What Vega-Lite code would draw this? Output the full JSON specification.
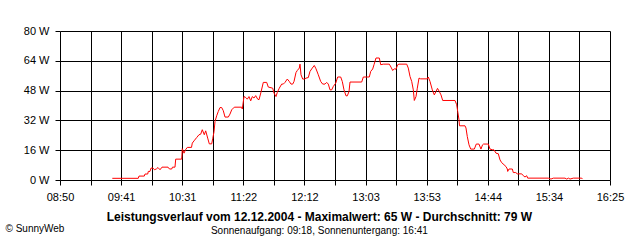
{
  "$schema": "https://vega.github.io/schema/vega-lite/v6.json",
  "width": 550,
  "height": 149,
  "autosize": {"type": "none"},
  "padding": {"left": 60, "top": 31, "right": 30, "bottom": 60},
  "background": "white",
  "config": {
    "view": {"stroke": null},
    "font": "Liberation Sans",
    "axis": {"labelFont": "Liberation Sans", "titleFont": "Liberation Sans", "labelColor": "#000", "titleColor": "#000"}
  },
  "title": {
    "text": "Leistungsverlauf vom 12.12.2004 - Maximalwert: 65 W - Durchschnitt: 79 W",
    "subtitle": "Sonnenaufgang: 09:18, Sonnenuntergang: 16:41",
    "orient": "bottom",
    "anchor": "middle",
    "frame": "bounds",
    "font": "Liberation Sans",
    "fontSize": 12,
    "fontWeight": "bold",
    "color": "#000",
    "subtitleFont": "Liberation Sans",
    "subtitleFontSize": 10,
    "subtitleColor": "#000",
    "subtitlePadding": 2,
    "offset": -21,
    "dx": 5
  },
  "data": {
    "values": [
      {"t": "2004-12-12T09:33:16", "w": 0.9},
      {"t": "2004-12-12T09:54:46", "w": 0.9},
      {"t": "2004-12-12T09:55:21", "w": 2.1},
      {"t": "2004-12-12T09:59:44", "w": 2.1},
      {"t": "2004-12-12T10:00:19", "w": 3.2},
      {"t": "2004-12-12T10:02:33", "w": 3.2},
      {"t": "2004-12-12T10:03:03", "w": 4.6},
      {"t": "2004-12-12T10:04:27", "w": 4.6},
      {"t": "2004-12-12T10:05:17", "w": 6.4},
      {"t": "2004-12-12T10:06:56", "w": 6.4},
      {"t": "2004-12-12T10:08:11", "w": 5.5},
      {"t": "2004-12-12T10:09:50", "w": 6.0},
      {"t": "2004-12-12T10:11:04", "w": 6.7},
      {"t": "2004-12-12T10:12:44", "w": 5.5},
      {"t": "2004-12-12T10:14:23", "w": 6.9},
      {"t": "2004-12-12T10:19:21", "w": 6.9},
      {"t": "2004-12-12T10:20:35", "w": 5.9},
      {"t": "2004-12-12T10:22:25", "w": 5.9},
      {"t": "2004-12-12T10:23:04", "w": 6.9},
      {"t": "2004-12-12T10:25:08", "w": 6.9},
      {"t": "2004-12-12T10:25:43", "w": 11.2},
      {"t": "2004-12-12T10:30:41", "w": 11.2},
      {"t": "2004-12-12T10:31:11", "w": 16.8},
      {"t": "2004-12-12T10:32:35", "w": 14.4},
      {"t": "2004-12-12T10:33:49", "w": 16.2},
      {"t": "2004-12-12T10:35:19", "w": 17.5},
      {"t": "2004-12-12T10:38:47", "w": 17.5},
      {"t": "2004-12-12T10:39:27", "w": 19.8},
      {"t": "2004-12-12T10:40:52", "w": 21.0},
      {"t": "2004-12-12T10:43:05", "w": 22.8},
      {"t": "2004-12-12T10:44:59", "w": 24.3},
      {"t": "2004-12-12T10:46:24", "w": 24.6},
      {"t": "2004-12-12T10:47:43", "w": 27.0},
      {"t": "2004-12-12T10:49:23", "w": 24.3},
      {"t": "2004-12-12T10:50:32", "w": 26.4},
      {"t": "2004-12-12T10:52:11", "w": 22.5},
      {"t": "2004-12-12T10:53:31", "w": 19.4},
      {"t": "2004-12-12T10:55:30", "w": 19.4},
      {"t": "2004-12-12T10:56:19", "w": 22.1},
      {"t": "2004-12-12T10:57:24", "w": 25.9},
      {"t": "2004-12-12T10:58:14", "w": 31.4},
      {"t": "2004-12-12T10:59:38", "w": 34.5},
      {"t": "2004-12-12T11:00:57", "w": 36.8},
      {"t": "2004-12-12T11:02:22", "w": 38.9},
      {"t": "2004-12-12T11:03:46", "w": 38.9},
      {"t": "2004-12-12T11:05:06", "w": 37.2},
      {"t": "2004-12-12T11:06:30", "w": 33.8},
      {"t": "2004-12-12T11:09:14", "w": 33.8},
      {"t": "2004-12-12T11:10:38", "w": 35.4},
      {"t": "2004-12-12T11:12:03", "w": 37.7},
      {"t": "2004-12-12T11:14:12", "w": 39.1},
      {"t": "2004-12-12T11:20:19", "w": 39.1},
      {"t": "2004-12-12T11:20:49", "w": 38.1},
      {"t": "2004-12-12T11:22:13", "w": 44.8},
      {"t": "2004-12-12T11:23:37", "w": 44.3},
      {"t": "2004-12-12T11:24:57", "w": 43.4},
      {"t": "2004-12-12T11:26:21", "w": 44.8},
      {"t": "2004-12-12T11:27:46", "w": 42.5},
      {"t": "2004-12-12T11:29:05", "w": 44.8},
      {"t": "2004-12-12T11:30:29", "w": 44.0},
      {"t": "2004-12-12T11:31:54", "w": 45.3},
      {"t": "2004-12-12T11:33:33", "w": 43.4},
      {"t": "2004-12-12T11:34:38", "w": 43.1},
      {"t": "2004-12-12T11:36:17", "w": 47.2},
      {"t": "2004-12-12T11:38:11", "w": 52.4},
      {"t": "2004-12-12T11:41:00", "w": 52.4},
      {"t": "2004-12-12T11:42:19", "w": 49.9},
      {"t": "2004-12-12T11:45:58", "w": 49.3},
      {"t": "2004-12-12T11:47:02", "w": 46.7},
      {"t": "2004-12-12T11:48:41", "w": 44.8},
      {"t": "2004-12-12T11:49:46", "w": 47.0},
      {"t": "2004-12-12T11:51:25", "w": 49.3},
      {"t": "2004-12-12T11:53:25", "w": 51.5},
      {"t": "2004-12-12T11:54:44", "w": 51.5},
      {"t": "2004-12-12T11:56:08", "w": 52.4},
      {"t": "2004-12-12T11:58:02", "w": 54.2},
      {"t": "2004-12-12T11:59:42", "w": 52.9},
      {"t": "2004-12-12T12:01:06", "w": 51.5},
      {"t": "2004-12-12T12:02:31", "w": 51.5},
      {"t": "2004-12-12T12:03:35", "w": 52.9},
      {"t": "2004-12-12T12:05:14", "w": 57.7},
      {"t": "2004-12-12T12:06:19", "w": 58.8},
      {"t": "2004-12-12T12:07:58", "w": 60.1},
      {"t": "2004-12-12T12:08:33", "w": 62.2},
      {"t": "2004-12-12T12:09:23", "w": 56.5},
      {"t": "2004-12-12T12:10:47", "w": 54.2},
      {"t": "2004-12-12T12:12:06", "w": 54.2},
      {"t": "2004-12-12T12:13:31", "w": 54.7},
      {"t": "2004-12-12T12:15:25", "w": 55.0},
      {"t": "2004-12-12T12:16:49", "w": 58.3},
      {"t": "2004-12-12T12:18:43", "w": 60.1},
      {"t": "2004-12-12T12:20:22", "w": 61.5},
      {"t": "2004-12-12T12:21:47", "w": 59.7},
      {"t": "2004-12-12T12:23:41", "w": 56.5},
      {"t": "2004-12-12T12:25:40", "w": 52.9},
      {"t": "2004-12-12T12:27:19", "w": 51.5},
      {"t": "2004-12-12T12:29:14", "w": 51.5},
      {"t": "2004-12-12T12:30:38", "w": 52.4},
      {"t": "2004-12-12T12:31:58", "w": 51.5},
      {"t": "2004-12-12T12:33:22", "w": 48.4},
      {"t": "2004-12-12T12:34:46", "w": 48.4},
      {"t": "2004-12-12T12:36:05", "w": 50.2},
      {"t": "2004-12-12T12:38:05", "w": 52.0},
      {"t": "2004-12-12T12:39:44", "w": 55.3},
      {"t": "2004-12-12T12:42:13", "w": 55.3},
      {"t": "2004-12-12T12:43:32", "w": 52.9},
      {"t": "2004-12-12T12:44:57", "w": 48.4},
      {"t": "2004-12-12T12:46:36", "w": 45.2},
      {"t": "2004-12-12T12:47:41", "w": 45.2},
      {"t": "2004-12-12T12:49:05", "w": 47.5},
      {"t": "2004-12-12T12:49:55", "w": 52.6},
      {"t": "2004-12-12T12:59:35", "w": 52.6},
      {"t": "2004-12-12T13:00:55", "w": 55.3},
      {"t": "2004-12-12T13:05:53", "w": 55.3},
      {"t": "2004-12-12T13:07:02", "w": 58.3},
      {"t": "2004-12-12T13:08:41", "w": 59.6},
      {"t": "2004-12-12T13:09:46", "w": 61.9},
      {"t": "2004-12-12T13:11:25", "w": 65.5},
      {"t": "2004-12-12T13:14:09", "w": 65.5},
      {"t": "2004-12-12T13:15:19", "w": 61.9},
      {"t": "2004-12-12T13:17:28", "w": 62.2},
      {"t": "2004-12-12T13:22:25", "w": 62.2},
      {"t": "2004-12-12T13:23:50", "w": 60.6},
      {"t": "2004-12-12T13:25:14", "w": 58.8},
      {"t": "2004-12-12T13:26:34", "w": 59.7},
      {"t": "2004-12-12T13:27:58", "w": 59.5},
      {"t": "2004-12-12T13:29:22", "w": 61.9},
      {"t": "2004-12-12T13:30:27", "w": 62.2},
      {"t": "2004-12-12T13:36:49", "w": 62.2},
      {"t": "2004-12-12T13:38:08", "w": 60.1},
      {"t": "2004-12-12T13:39:33", "w": 55.6},
      {"t": "2004-12-12T13:40:58", "w": 52.9},
      {"t": "2004-12-12T13:42:17", "w": 48.4},
      {"t": "2004-12-12T13:43:07", "w": 42.7},
      {"t": "2004-12-12T13:44:31", "w": 44.8},
      {"t": "2004-12-12T13:45:35", "w": 49.3},
      {"t": "2004-12-12T13:47:00", "w": 54.7},
      {"t": "2004-12-12T13:48:24", "w": 54.3},
      {"t": "2004-12-12T13:53:52", "w": 54.3},
      {"t": "2004-12-12T13:54:41", "w": 55.3},
      {"t": "2004-12-12T13:56:06", "w": 52.9},
      {"t": "2004-12-12T13:58:00", "w": 48.4},
      {"t": "2004-12-12T13:59:39", "w": 45.7},
      {"t": "2004-12-12T14:01:03", "w": 47.5},
      {"t": "2004-12-12T14:02:18", "w": 49.2},
      {"t": "2004-12-12T14:03:47", "w": 47.5},
      {"t": "2004-12-12T14:05:11", "w": 45.7},
      {"t": "2004-12-12T14:06:36", "w": 42.7},
      {"t": "2004-12-12T14:16:46", "w": 42.7},
      {"t": "2004-12-12T14:18:11", "w": 40.4},
      {"t": "2004-12-12T14:19:01", "w": 36.8},
      {"t": "2004-12-12T14:20:05", "w": 32.3},
      {"t": "2004-12-12T14:20:30", "w": 29.1},
      {"t": "2004-12-12T14:25:03", "w": 29.1},
      {"t": "2004-12-12T14:25:52", "w": 27.9},
      {"t": "2004-12-12T14:26:57", "w": 23.3},
      {"t": "2004-12-12T14:28:22", "w": 18.9},
      {"t": "2004-12-12T14:29:46", "w": 16.6},
      {"t": "2004-12-12T14:32:45", "w": 16.6},
      {"t": "2004-12-12T14:34:22", "w": 19.3},
      {"t": "2004-12-12T14:36:35", "w": 19.3},
      {"t": "2004-12-12T14:38:15", "w": 16.6},
      {"t": "2004-12-12T14:39:34", "w": 18.9},
      {"t": "2004-12-12T14:40:24", "w": 19.3},
      {"t": "2004-12-12T14:44:20", "w": 19.3},
      {"t": "2004-12-12T14:45:44", "w": 16.6},
      {"t": "2004-12-12T14:47:58", "w": 16.2},
      {"t": "2004-12-12T14:49:02", "w": 16.2},
      {"t": "2004-12-12T14:50:41", "w": 14.4},
      {"t": "2004-12-12T14:52:35", "w": 14.1},
      {"t": "2004-12-12T14:54:00", "w": 10.8},
      {"t": "2004-12-12T14:55:24", "w": 9.3},
      {"t": "2004-12-12T14:57:19", "w": 8.2},
      {"t": "2004-12-12T14:58:58", "w": 7.2},
      {"t": "2004-12-12T15:00:03", "w": 5.9},
      {"t": "2004-12-12T15:00:22", "w": 4.6},
      {"t": "2004-12-12T15:01:27", "w": 5.9},
      {"t": "2004-12-12T15:04:11", "w": 5.9},
      {"t": "2004-12-12T15:05:00", "w": 4.0},
      {"t": "2004-12-12T15:06:59", "w": 4.0},
      {"t": "2004-12-12T15:08:19", "w": 3.3},
      {"t": "2004-12-12T15:11:57", "w": 3.3},
      {"t": "2004-12-12T15:13:17", "w": 2.3},
      {"t": "2004-12-12T15:14:41", "w": 1.6},
      {"t": "2004-12-12T15:16:05", "w": 2.3},
      {"t": "2004-12-12T15:16:55", "w": 1.0},
      {"t": "2004-12-12T15:33:58", "w": 1.0},
      {"t": "2004-12-12T15:36:11", "w": 0.5},
      {"t": "2004-12-12T15:38:06", "w": 1.0},
      {"t": "2004-12-12T15:47:47", "w": 1.0},
      {"t": "2004-12-12T15:49:11", "w": 0.5},
      {"t": "2004-12-12T15:50:40", "w": 1.0},
      {"t": "2004-12-12T15:51:55", "w": 0.5},
      {"t": "2004-12-12T15:54:38", "w": 1.0},
      {"t": "2004-12-12T16:01:35", "w": 1.0},
      {"t": "2004-12-12T16:02:15", "w": 0.5}
    ]
  },
  "mark": {"type": "line", "color": "#ff0000", "strokeWidth": 1, "interpolate": "linear"},
  "encoding": {
    "x": {
      "field": "t",
      "type": "temporal",
      "scale": {
        "domain": [
          {"year": 2004, "month": 12, "date": 12, "hours": 8, "minutes": 50},
          {"year": 2004, "month": 12, "date": 12, "hours": 16, "minutes": 25}
        ]
      },
      "axis": {
        "title": null,
        "values": [
          {"year": 2004, "month": 12, "date": 12, "hours": 8, "minutes": 50, "seconds": 0},
          {"year": 2004, "month": 12, "date": 12, "hours": 9, "minutes": 15, "seconds": 17},
          {"year": 2004, "month": 12, "date": 12, "hours": 9, "minutes": 40, "seconds": 33},
          {"year": 2004, "month": 12, "date": 12, "hours": 10, "minutes": 5, "seconds": 50},
          {"year": 2004, "month": 12, "date": 12, "hours": 10, "minutes": 31, "seconds": 7},
          {"year": 2004, "month": 12, "date": 12, "hours": 10, "minutes": 56, "seconds": 23},
          {"year": 2004, "month": 12, "date": 12, "hours": 11, "minutes": 21, "seconds": 40},
          {"year": 2004, "month": 12, "date": 12, "hours": 11, "minutes": 46, "seconds": 57},
          {"year": 2004, "month": 12, "date": 12, "hours": 12, "minutes": 12, "seconds": 13},
          {"year": 2004, "month": 12, "date": 12, "hours": 12, "minutes": 37, "seconds": 30},
          {"year": 2004, "month": 12, "date": 12, "hours": 13, "minutes": 2, "seconds": 47},
          {"year": 2004, "month": 12, "date": 12, "hours": 13, "minutes": 28, "seconds": 3},
          {"year": 2004, "month": 12, "date": 12, "hours": 13, "minutes": 53, "seconds": 20},
          {"year": 2004, "month": 12, "date": 12, "hours": 14, "minutes": 18, "seconds": 37},
          {"year": 2004, "month": 12, "date": 12, "hours": 14, "minutes": 43, "seconds": 53},
          {"year": 2004, "month": 12, "date": 12, "hours": 15, "minutes": 9, "seconds": 10},
          {"year": 2004, "month": 12, "date": 12, "hours": 15, "minutes": 34, "seconds": 27},
          {"year": 2004, "month": 12, "date": 12, "hours": 15, "minutes": 59, "seconds": 43},
          {"year": 2004, "month": 12, "date": 12, "hours": 16, "minutes": 25, "seconds": 0}
        ],
        "labelExpr": "round((hours(datum.value) * 60 + minutes(datum.value) + seconds(datum.value) / 60 - 530) / 25.27778) % 2 == 0 ? timeFormat(time(datum.value) + 30000, '%H:%M') : ''",
        "labelFontSize": 11,
        "labelPadding": 6,
        "labelFlush": false,
        "labelOverlap": false,
        "domain": false,
        "grid": true,
        "gridColor": "#000",
        "gridOpacity": 1,
        "gridWidth": 1,
        "ticks": true,
        "tickColor": "#000",
        "tickSize": 5,
        "tickWidth": 1
      }
    },
    "y": {
      "field": "w",
      "type": "quantitative",
      "scale": {"domain": [0, 80], "nice": false, "zero": true},
      "axis": {
        "title": "© SunnyWeb",
        "titleAngle": 0,
        "titleAlign": "left",
        "titleBaseline": "middle",
        "titleX": -55,
        "titleY": 197,
        "titleFontSize": 10,
        "titleFontWeight": "normal",
        "values": [0, 16, 32, 48, 64, 80],
        "labelExpr": "datum.value + ' W'",
        "labelFontSize": 11,
        "labelPadding": 6,
        "labelFlush": false,
        "domain": false,
        "grid": true,
        "gridColor": "#000",
        "gridOpacity": 1,
        "gridWidth": 1,
        "ticks": true,
        "tickColor": "#000",
        "tickSize": 5,
        "tickWidth": 1
      }
    }
  }
}
